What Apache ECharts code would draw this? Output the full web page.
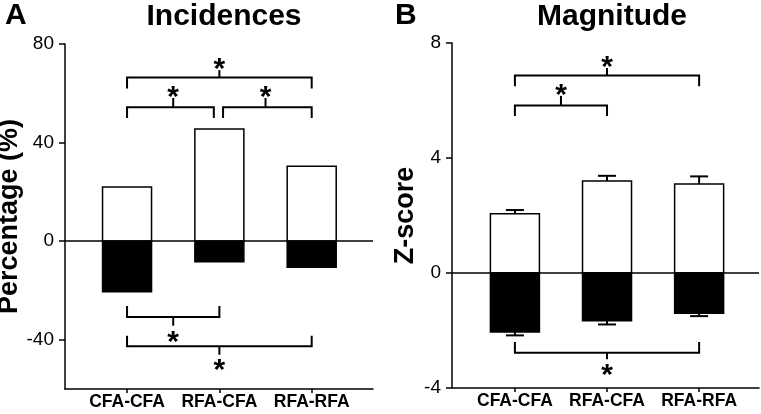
<!DOCTYPE html>
<html>
<head>
<meta charset="utf-8">
<script src="https://cdn.jsdelivr.net/npm/echarts@6/dist/echarts.min.js"></script>
<style>
  html, body { margin: 0; padding: 0; background: #fff; }
  #chart { width: 761px; height: 414px; }
</style>
</head>
<body>
<div id="chart"></div>
<script>
// categories + values
const categories = ['CFA-CFA', 'RFA-CFA', 'RFA-RFA'];
const catPos = [0, 1, 2];

// A: incidences (%)
const incPos = [22, 45.5, 30.4];
const incNeg = [-20.5, -8.4, -10.6];
const incTicks = [-40, 0, 40, 80];

// B: magnitude (z-score)
const magPos = [2.06, 3.2, 3.1];
const magPosErr = [0.13, 0.18, 0.26];
const magNeg = [-2.05, -1.66, -1.4];
const magNegErr = [0.12, 0.13, 0.1];
const magTicks = [-4, 0, 4, 8];

// brackets: [x1, x2, yBar, yEnd, xMid, yTip]
const bracketsA = [
  [0, 2, 66.4, 61.9, 1, 69.4],
  [0, 0.94, 54.3, 50.0, 0.5, 58.1],
  [1.04, 2, 54.3, 50.0, 1.5, 58.1],
  [0, 1, -30.8, -26.3, 0.5, -34.3],
  [0, 2, -42.7, -38.4, 1, -46.1]
];
const starsA = [[1, 72.8], [0.5, 61.5], [1.5, 61.5], [0.5, -38], [1, -49.4]];

const bracketsB = [
  [0, 2, 6.87, 6.5, 1, 7.13],
  [0, 1, 5.83, 5.46, 0.5, 6.16],
  [0, 2, -2.77, -2.4, 1, -3.0]
];
const starsB = [[1, 7.43], [0.5, 6.46], [1, -3.29]];

const FONT = 'Liberation Sans, Arial, Helvetica, sans-serif';
const BAR_W = 49;
const chart = echarts.init(document.getElementById('chart'));

function pairs(xs, ys) {
  return xs.map((x, i) => [x, ys[i]]);
}

// bars drawn as rects so the value x axis keeps its exact range
function barItem(fill) {
  return function (params, api) {
    const a = api.coord([api.value(0), 0]);
    const b = api.coord([api.value(0), api.value(1)]);
    return {
      type: 'rect',
      shape: { x: a[0] - BAR_W / 2, y: Math.min(a[1], b[1]), width: BAR_W, height: Math.abs(b[1] - a[1]) },
      style: { fill: fill, stroke: '#000', lineWidth: 1.5 }
    };
  };
}

function bracketItem(params, api) {
  const p = (x, y) => api.coord([x, y]);
  const x1 = api.value(0), x2 = api.value(1), yb = api.value(2), ye = api.value(3);
  const xm = api.value(4), yt = api.value(5);
  const ls = { stroke: '#000', lineWidth: 2, fill: null };
  return {
    type: 'group',
    children: [
      { type: 'polyline', shape: { points: [p(x1, ye), p(x1, yb), p(x2, yb), p(x2, ye)] }, style: ls },
      { type: 'line', shape: { x1: p(xm, yb)[0], y1: p(xm, yb)[1], x2: p(xm, yt)[0], y2: p(xm, yt)[1] }, style: ls }
    ]
  };
}

function starItem(params, api) {
  const c = api.coord([api.value(0), api.value(1)]);
  return {
    type: 'text',
    style: {
      text: '*', x: c[0], y: c[1] + 8,
      align: 'center', verticalAlign: 'middle',
      font: 'bold 30px ' + FONT, fill: '#000'
    }
  };
}

function errItem(params, api) {
  const x = api.value(0), m = api.value(1), e = api.value(2);
  const end = m >= 0 ? m + e : m - e;
  const a = api.coord([x, m]), b = api.coord([x, end]);
  const ls = { stroke: '#000', lineWidth: 2 };
  return {
    type: 'group',
    children: [
      { type: 'line', shape: { x1: a[0], y1: a[1], x2: b[0], y2: b[1] }, style: ls },
      { type: 'line', shape: { x1: b[0] - 9, y1: b[1], x2: b[0] + 9, y2: b[1] }, style: ls }
    ]
  };
}

function xAxisCfg(idx, min, max) {
  return {
    gridIndex: idx, type: 'value', min: min, max: max,
    splitLine: { show: false },
    axisLine: { onZero: false, lineStyle: { color: '#000', width: 1.5 } },
    axisTick: { customValues: catPos, length: 4, lineStyle: { color: '#000', width: 1.5 } },
    axisLabel: {
      customValues: catPos, margin: 4,
      formatter: v => categories[Math.round(v)],
      color: '#000', fontSize: 17.5, fontWeight: 'bold', fontFamily: FONT
    }
  };
}

function yAxisCfg(idx, min, max, ticks, name, gap) {
  return {
    gridIndex: idx, type: 'value', min: min, max: max,
    name: name, nameLocation: 'middle', nameGap: gap, nameRotate: 90,
    nameTextStyle: { color: '#000', fontSize: 27, fontWeight: 'bold', fontFamily: FONT },
    splitLine: { show: false },
    axisLine: { show: true, onZero: false, lineStyle: { color: '#000', width: 1.5 } },
    axisTick: { show: true, customValues: ticks, length: 6, lineStyle: { color: '#000', width: 1.5 } },
    axisLabel: { customValues: ticks, margin: 11, color: '#000', fontSize: 19, fontFamily: FONT }
  };
}

const zeroLine = {
  silent: true, symbol: 'none', label: { show: false },
  lineStyle: { color: '#000', width: 1.5, type: 'solid' },
  data: [{ yAxis: 0 }]
};

const titleStyle = size => ({ fontSize: size, fontWeight: 'bold', fontFamily: FONT, color: '#000' });

chart.setOption({
  animation: false,
  backgroundColor: '#fff',
  title: [
    { text: 'A', left: 0, top: -4, textStyle: titleStyle(30) },
    { text: 'Incidences', left: 219, top: -3, textAlign: 'center', textStyle: titleStyle(30) },
    { text: 'B', left: 390, top: -4, textStyle: titleStyle(30) },
    { text: 'Magnitude', left: 607, top: -3, textAlign: 'center', textStyle: titleStyle(30) }
  ],
  grid: [
    { left: 65, top: 44, width: 308, height: 345, outerBoundsMode: 'none' },
    { left: 452, top: 43, width: 307, height: 345, outerBoundsMode: 'none' }
  ],
  xAxis: [xAxisCfg(0, -0.672, 2.664), xAxisCfg(1, -0.683, 2.65)],
  yAxis: [
    yAxisCfg(0, -60, 80, incTicks, 'Percentage (%)', 37),
    yAxisCfg(1, -4, 8, magTicks, 'Z-score', 33)
  ],
  series: [
    { type: 'custom', xAxisIndex: 0, yAxisIndex: 0, renderItem: barItem('#fff'), data: pairs(catPos, incPos), markLine: zeroLine },
    { type: 'custom', xAxisIndex: 0, yAxisIndex: 0, renderItem: barItem('#000'), data: pairs(catPos, incNeg) },
    { type: 'custom', xAxisIndex: 1, yAxisIndex: 1, renderItem: barItem('#fff'), data: pairs(catPos, magPos), markLine: zeroLine },
    { type: 'custom', xAxisIndex: 1, yAxisIndex: 1, renderItem: barItem('#000'), data: pairs(catPos, magNeg) },
    {
      type: 'custom', xAxisIndex: 1, yAxisIndex: 1, renderItem: errItem, z: 3,
      data: catPos.map((x, i) => [x, magPos[i], magPosErr[i]])
        .concat(catPos.map((x, i) => [x, magNeg[i], magNegErr[i]]))
    },
    { type: 'custom', xAxisIndex: 0, yAxisIndex: 0, renderItem: bracketItem, data: bracketsA },
    { type: 'custom', xAxisIndex: 0, yAxisIndex: 0, renderItem: starItem, data: starsA },
    { type: 'custom', xAxisIndex: 1, yAxisIndex: 1, renderItem: bracketItem, data: bracketsB },
    { type: 'custom', xAxisIndex: 1, yAxisIndex: 1, renderItem: starItem, data: starsB }
  ]
});
</script>
</body>
</html>
